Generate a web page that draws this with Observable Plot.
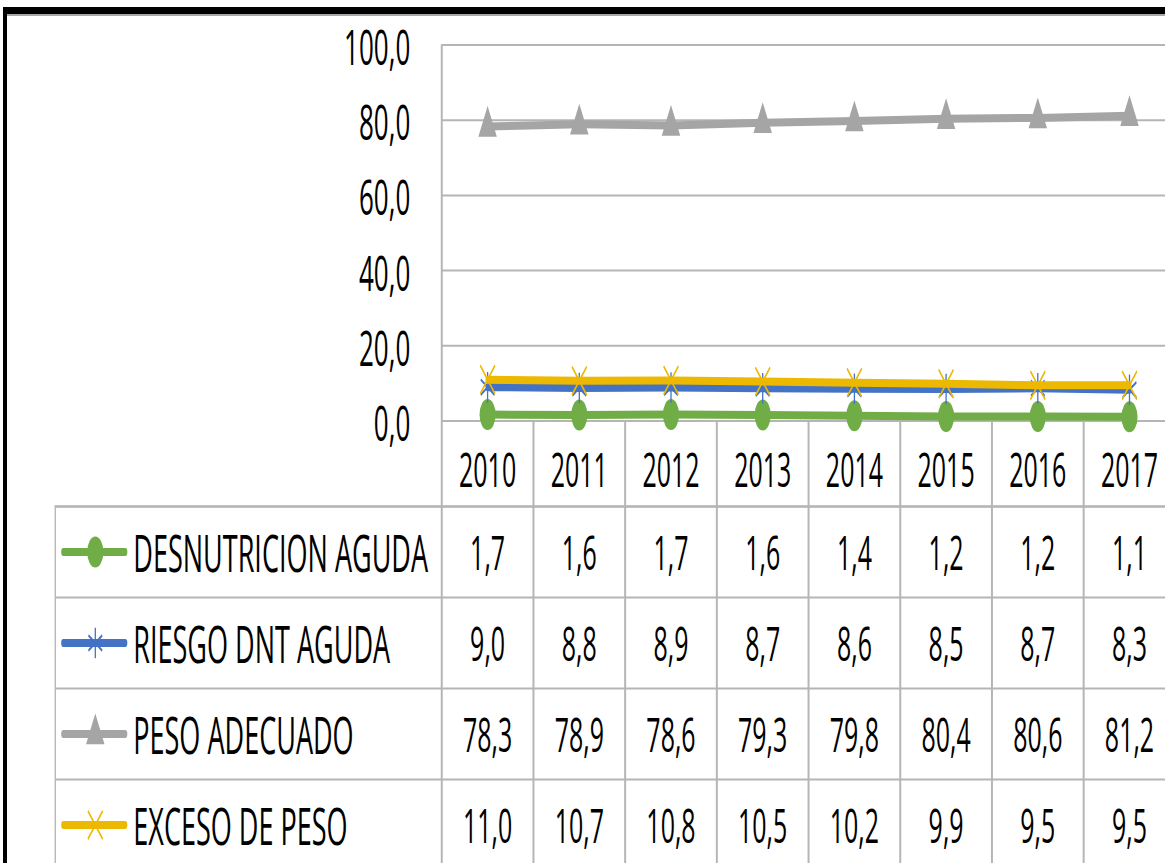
<!DOCTYPE html>
<html><head><meta charset="utf-8">
<script src="https://cdn.jsdelivr.net/npm/d3@7"></script>
<script src="https://cdn.jsdelivr.net/npm/@observablehq/plot@0.6"></script>
<style>
html,body{margin:0;padding:0;background:#fff;}
#wrap{position:relative;width:1165px;height:863px;overflow:hidden;background:#fff;font-family:"Open Sans",sans-serif;}
#chart{position:absolute;left:0;top:0;}
#table{position:absolute;left:0;top:505px;}
.line-under{position:absolute;left:7px;top:14px;right:0;height:1.5px;background:#a8a8a8;}
.bar-top{position:absolute;left:3px;top:7px;right:0;height:7px;background:#000;}
.bar-left{position:absolute;left:3px;top:7px;width:4px;bottom:0;background:#000;}
</style></head>
<body>
<div id="wrap">
  <div id="chart"></div>
  <div id="table"></div>
  <div class="line-under"></div>
  <div class="bar-top"></div>
  <div class="bar-left"></div>
</div>
<script>
// ---- data ----
const years = [2010, 2011, 2012, 2013, 2014, 2015, 2016, 2017];
const seriesNames = ["DESNUTRICION AGUDA", "RIESGO DNT AGUDA", "PESO ADECUADO", "EXCESO DE PESO"];
const desnutricionAguda = [1.7, 1.6, 1.7, 1.6, 1.4, 1.2, 1.2, 1.1];
const riesgoDntAguda = [9.0, 8.8, 8.9, 8.7, 8.6, 8.5, 8.7, 8.3];
const pesoAdecuado = [78.3, 78.9, 78.6, 79.3, 79.8, 80.4, 80.6, 81.2];
const excesoDePeso = [11.0, 10.7, 10.8, 10.5, 10.2, 9.9, 9.5, 9.5];
const yTicks = [0, 20, 40, 60, 80, 100];

// ---- styling / layout ----
const seriesValues = [desnutricionAguda, riesgoDntAguda, pesoAdecuado, excesoDePeso];
const seriesStyles = [
  {color: "#70AD47", symbol: "circle", r: 15.5, filled: true},
  {color: "#4472C4", symbol: "asterisk", r: 14.5, filled: false},
  {color: "#A5A5A5", symbol: "triangle", r: 13.2, filled: true},
  {color: "#EDB800", symbol: "times", r: 13, filled: false}
];
const GRID = "#b5b5b5";
const S = 0.52;            // horizontal compression of the original picture
const VW = 2270;           // virtual width (before compression)
const X0 = 441.5 / S, X1 = 1175.1 / S;
const HEADER_DEPTH = 85.5; // height of the year-label band below the zero line
const xDomain = [years[0] - 0.5, years[years.length - 1] + 0.5];
const fmt = v => v.toFixed(1).replace(".", ",");
const styleStr = "font-family:'Open Sans',sans-serif;color:#000;background:transparent;overflow:hidden;";

const rows = seriesNames.flatMap((name, i) =>
  years.map((year, j) => ({name, row: i, year, value: seriesValues[i][j]})));
const seriesRows = seriesNames.map((name, i) => ({name, row: i}));
const edges = years.map(y => y - 0.5).concat([years[years.length - 1] + 0.5]);

function squish(svg, h) {
  svg.setAttribute("viewBox", `0 0 ${VW} ${h}`);
  svg.setAttribute("preserveAspectRatio", "none");
  svg.setAttribute("width", VW * S);
  svg.setAttribute("height", h);
  svg.style.width = (VW * S) + "px";
  svg.style.height = h + "px";
  svg.style.maxWidth = "none";
  return svg;
}

// ---- chart ----
const chartMarks = [
  Plot.ruleY(yTicks, {stroke: GRID, strokeWidth: 2}),
  Plot.ruleX([edges[0]], {stroke: GRID, strokeWidth: 3.8}),
  Plot.ruleX(edges.slice(1), {y: 0, insetBottom: -HEADER_DEPTH, stroke: GRID, strokeWidth: 3.8}),
  Plot.axisY({ticks: yTicks, tickFormat: fmt, tickSize: 0, tickPadding: 60.6, fontSize: 50, dy: 4, label: null}),
  Plot.axisX({ticks: years, tickFormat: d => String(d), tickSize: 0, tickPadding: -35, lineAnchor: "middle", fontSize: 48, label: null})
];
seriesNames.forEach((name, i) => {
  const data = rows.filter(d => d.row === i);
  const st = seriesStyles[i];
  chartMarks.push(Plot.line(data, {x: "year", y: "value", stroke: st.color, strokeWidth: 8,
    strokeLinecap: "round", strokeLinejoin: "round"}));
  chartMarks.push(Plot.dot(data, {x: "year", y: "value", symbol: st.symbol, r: st.r,
    fill: st.filled ? st.color : "none", stroke: st.filled ? "none" : st.color, strokeWidth: 2.5}));
});

const chart = Plot.plot({
  width: VW, height: 506,
  marginLeft: X0, marginRight: 0, marginTop: 44.5, marginBottom: 0,
  x: {type: "linear", domain: xDomain, range: [X0, X1], label: null},
  y: {type: "linear", domain: [0, 100], range: [420.5, 44.5], label: null},
  style: styleStr,
  marks: chartMarks
});
document.getElementById("chart").appendChild(squish(chart, 506));

// ---- data table ----
const hbar = {draw(context, size) {
  const h = Math.sqrt(size / Math.PI);
  context.moveTo(-h, 0); context.lineTo(h, 0);
}};
const tableMarks = [
  Plot.frame({stroke: GRID, strokeWidth: 2.6}),
  Plot.ruleY(seriesRows.slice(1), {y: d => d.row, stroke: GRID, strokeWidth: 2}),
  Plot.ruleX(edges, {stroke: GRID, strokeWidth: 3.8}),
  Plot.text(rows, {x: "year", y: d => d.row + 0.5, text: d => fmt(d.value), fontSize: 48, dy: 3, fill: "#000"}),
  Plot.text(seriesRows, {y: d => d.row + 0.5, text: d => d.name, frameAnchor: "left", dx: 150,
    textAnchor: "start", fontSize: 52, dy: 3, fill: "#000"})
];
seriesRows.forEach((d, i) => {
  const st = seriesStyles[i];
  tableMarks.push(Plot.dot([d], {y: v => v.row + 0.5, frameAnchor: "left", dx: 75, symbol: hbar, r: 59.6,
    fill: "none", stroke: st.color, strokeWidth: 8, strokeLinecap: "round"}));
  tableMarks.push(Plot.dot([d], {y: v => v.row + 0.5, frameAnchor: "left", dx: 77, symbol: st.symbol, r: st.r,
    fill: st.filled ? st.color : "none", stroke: st.filled ? "none" : st.color, strokeWidth: 2.5}));
});
const table = Plot.plot({
  width: VW, height: 365,
  marginLeft: 55 / S, marginRight: 0, marginTop: 1, marginBottom: 0,
  x: {type: "linear", domain: xDomain, range: [X0, X1], axis: null},
  y: {type: "linear", domain: [0, seriesNames.length], range: [1, 1 + 91 * seriesNames.length], axis: null},
  style: styleStr,
  marks: tableMarks
});
document.getElementById("table").appendChild(squish(table, 365));
</script>
</body></html>
